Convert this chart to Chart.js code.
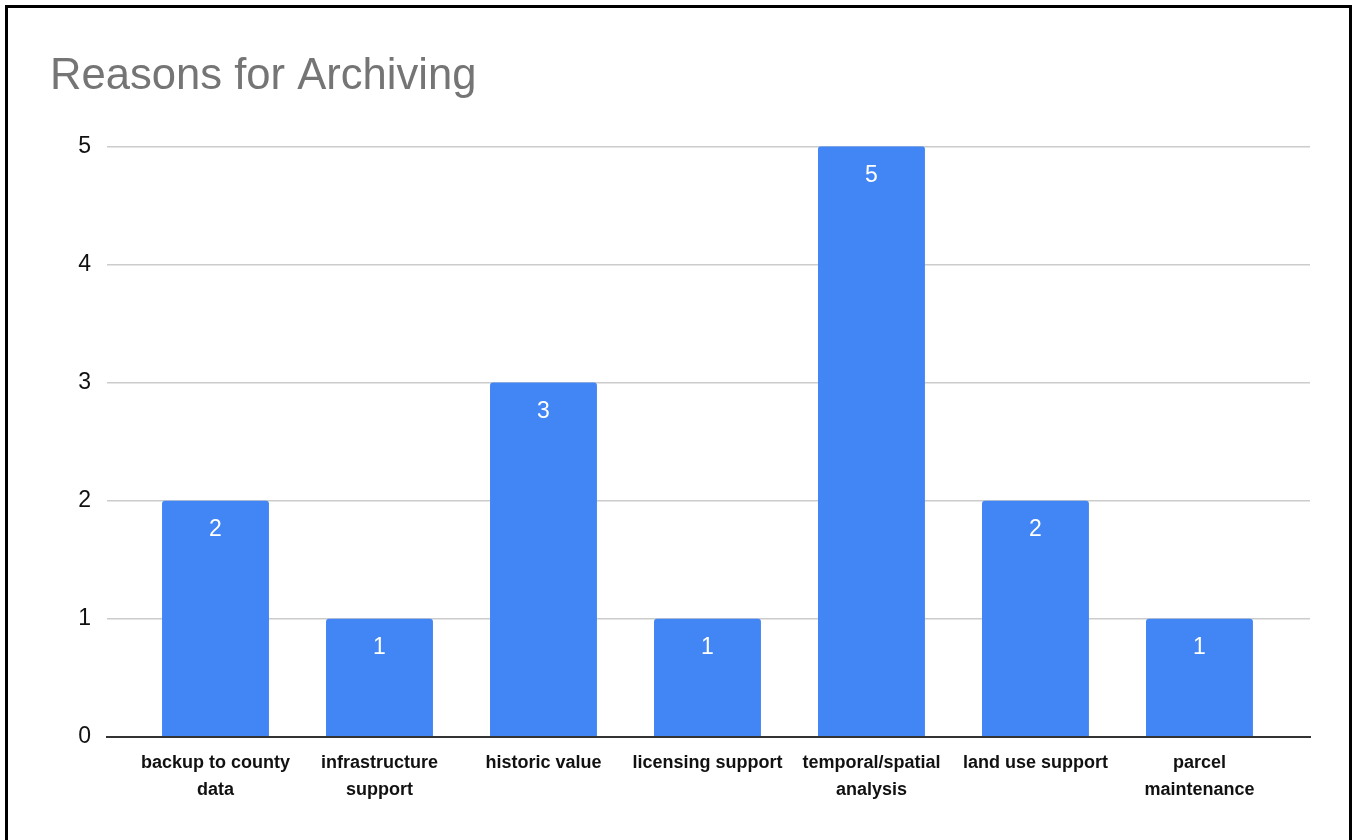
<!DOCTYPE html>
<html>
<head>
<meta charset="utf-8">
<title>Reasons for Archiving</title>
<script src="https://cdn.jsdelivr.net/npm/chart.js@4/dist/chart.umd.min.js"></script>
<style>
  html, body { margin: 0; padding: 0; background: #fff; overflow: hidden; }
  #wrap { position: relative; width: 1354px; height: 840px; }
  #frame {
    position: absolute; left: 5px; top: 5px; width: 1341px; height: 900px;
    border: 3px solid #000; border-bottom: none; pointer-events: none;
  }
  canvas { position: absolute; left: 0; top: 0; }
</style>
</head>
<body>
<div id="wrap">
  <canvas id="chart" width="1354" height="840"></canvas>
  <div id="frame"></div>
</div>
<script>
// categories (already split into display lines) and counts
const categories = [
  ['backup to county', 'data'],
  ['infrastructure', 'support'],
  ['historic value'],
  ['licensing support'],
  ['temporal/spatial', 'analysis'],
  ['land use support'],
  ['parcel', 'maintenance'],
];
const counts = [2, 1, 3, 1, 5, 2, 1];
const yTicks = [0, 1, 2, 3, 4, 5];

const FONT = "'Liberation Sans', Arial, sans-serif";
const BLUE = '#4285F4';

// white value labels just under the top of each bar
const barValueLabels = {
  id: 'barValueLabels',
  afterDatasetsDraw(chart) {
    const ctx = chart.ctx;
    const meta = chart.getDatasetMeta(0);
    ctx.save();
    ctx.fillStyle = '#fff';
    ctx.font = '23px ' + FONT;
    ctx.textAlign = 'center';
    ctx.textBaseline = 'middle';
    meta.data.forEach((bar, i) => {
      ctx.fillText(String(counts[i]), bar.x, bar.y + 29);
    });
    ctx.restore();
  }
};

const ctx = document.getElementById('chart').getContext('2d');
new Chart(ctx, {
  type: 'bar',
  data: {
    datasets: [{
      data: counts.map((v, i) => ({ x: i, y: v })),
      backgroundColor: BLUE,
      borderRadius: { topLeft: 3, topRight: 3 },
      borderSkipped: 'bottom',
      barPercentage: 0.652,
      categoryPercentage: 1,
    }],
  },
  options: {
    responsive: false,
    animation: false,
    layout: { padding: { left: 50, right: 44, top: 0, bottom: 23 } },
    plugins: {
      legend: { display: false },
      tooltip: { enabled: false },
      title: {
        display: true,
        text: 'Reasons for Archiving',
        align: 'start',
        color: '#757575',
        font: { family: FONT, size: 43.6, weight: 'normal' },
        padding: { top: 51, bottom: 43 },
      },
    },
    scales: {
      x: {
        type: 'linear',
        offset: false,
        min: -0.6616,
        max: 6.674,
        afterBuildTicks: scale => { scale.ticks = categories.map((_, i) => ({ value: i })); },
        grid: { display: false, drawTicks: false },
        border: { display: true, color: '#333', width: 2 },
        ticks: {
          autoSkip: false,
          maxRotation: 0,
          padding: 13,
          color: '#111',
          font: { family: FONT, size: 18, weight: 'bold', lineHeight: 1.5 },
          callback: v => categories[v] || '',
        },
      },
      y: {
        min: 0,
        max: 5,
        afterBuildTicks: scale => { scale.ticks = yTicks.map(v => ({ value: v })); },
        afterFit: scale => { scale.width = 57; },
        grid: {
          drawTicks: false,
          color: c => c.tick.value === 0 ? '#333' : '#ccc',
          lineWidth: c => c.tick.value === 0 ? 2 : 1.5,
        },
        border: { display: false },
        ticks: {
          padding: 16,
          color: '#111',
          font: { family: FONT, size: 23 },
        },
      },
    },
  },
  plugins: [barValueLabels],
});
</script>
</body>
</html>
